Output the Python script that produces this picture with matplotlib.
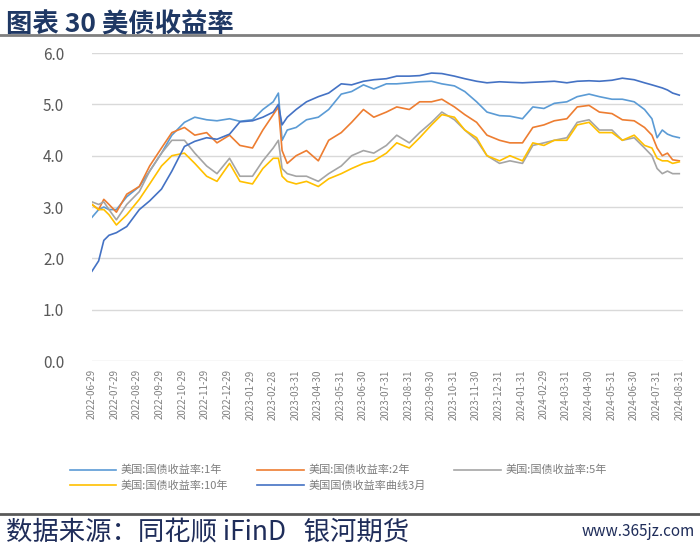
import matplotlib
matplotlib.use("Agg")
import matplotlib.pyplot as plt
from matplotlib.lines import Line2D
import pandas as pd

plt.rcParams['font.family'] = ['Noto Sans CJK SC', 'DejaVu Sans']

# sample dates (roughly semi-monthly, denser around the March 2023 spike and the Aug 2024 drop)
dates = ['2022-06-29', '2022-07-08', '2022-07-15', '2022-07-22', '2022-08-01', '2022-08-15',
         '2022-09-01', '2022-09-15', '2022-10-01', '2022-10-15', '2022-11-01', '2022-11-15',
         '2022-12-01', '2022-12-15', '2023-01-01', '2023-01-15', '2023-02-01', '2023-02-15',
         '2023-03-01', '2023-03-08', '2023-03-13', '2023-03-20', '2023-04-01', '2023-04-15',
         '2023-05-01', '2023-05-15', '2023-06-01', '2023-06-15', '2023-07-01', '2023-07-15',
         '2023-08-01', '2023-08-15', '2023-09-01', '2023-09-15', '2023-10-01', '2023-10-15',
         '2023-11-01', '2023-11-15', '2023-12-01', '2023-12-15', '2024-01-01', '2024-01-15',
         '2024-02-01', '2024-02-15', '2024-03-01', '2024-03-15', '2024-04-01', '2024-04-15',
         '2024-05-01', '2024-05-15', '2024-06-01', '2024-06-15', '2024-07-01', '2024-07-15',
         '2024-07-25', '2024-08-01', '2024-08-08', '2024-08-15', '2024-08-22', '2024-08-31']

y1 = [2.80, 2.95, 3.00, 2.95, 2.95, 3.20, 3.40, 3.70, 4.05, 4.40, 4.65, 4.75,
      4.70, 4.68, 4.72, 4.67, 4.70, 4.90, 5.05, 5.22, 4.30, 4.50, 4.55, 4.70,
      4.75, 4.90, 5.20, 5.25, 5.38, 5.30, 5.40, 5.40, 5.42, 5.44, 5.45, 5.40,
      5.36, 5.25, 5.05, 4.85, 4.78, 4.77, 4.72, 4.95, 4.92, 5.02, 5.05, 5.15,
      5.20, 5.15, 5.10, 5.10, 5.05, 4.90, 4.72, 4.35, 4.50, 4.42, 4.38, 4.35]

y2 = [3.05, 2.95, 3.15, 3.05, 2.90, 3.25, 3.40, 3.80, 4.15, 4.45, 4.55, 4.40,
      4.45, 4.25, 4.40, 4.20, 4.15, 4.50, 4.80, 4.95, 4.10, 3.85, 4.00, 4.10,
      3.90, 4.30, 4.45, 4.65, 4.90, 4.75, 4.85, 4.95, 4.90, 5.05, 5.05, 5.10,
      4.95, 4.80, 4.65, 4.40, 4.30, 4.25, 4.25, 4.55, 4.60, 4.68, 4.72, 4.95,
      4.98, 4.85, 4.82, 4.70, 4.68, 4.55, 4.40, 4.15, 4.00, 4.05, 3.92, 3.90]

y5 = [3.10, 3.05, 3.10, 2.95, 2.75, 3.05, 3.30, 3.70, 4.05, 4.30, 4.30, 4.05,
      3.80, 3.65, 3.95, 3.60, 3.60, 3.90, 4.15, 4.30, 3.75, 3.65, 3.60, 3.60,
      3.50, 3.65, 3.80, 4.00, 4.10, 4.05, 4.20, 4.40, 4.25, 4.45, 4.65, 4.85,
      4.70, 4.50, 4.30, 4.00, 3.85, 3.90, 3.85, 4.20, 4.25, 4.30, 4.35, 4.65,
      4.70, 4.50, 4.50, 4.30, 4.35, 4.15, 4.00, 3.75, 3.65, 3.70, 3.65, 3.65]

y10 = [3.05, 2.95, 2.95, 2.85, 2.65, 2.85, 3.15, 3.45, 3.80, 4.00, 4.05, 3.85,
       3.60, 3.50, 3.85, 3.50, 3.45, 3.75, 3.95, 3.95, 3.60, 3.50, 3.45, 3.50,
       3.40, 3.55, 3.65, 3.75, 3.85, 3.90, 4.05, 4.25, 4.15, 4.35, 4.60, 4.80,
       4.75, 4.50, 4.35, 4.00, 3.90, 4.00, 3.90, 4.25, 4.20, 4.30, 4.30, 4.60,
       4.65, 4.45, 4.45, 4.30, 4.40, 4.20, 4.15, 3.95, 3.90, 3.90, 3.85, 3.88]

y3m = [1.75, 1.95, 2.35, 2.45, 2.50, 2.62, 2.95, 3.12, 3.35, 3.70, 4.18, 4.28,
       4.35, 4.32, 4.42, 4.66, 4.68, 4.75, 4.85, 5.00, 4.60, 4.75, 4.90, 5.05,
       5.15, 5.22, 5.40, 5.38, 5.45, 5.48, 5.50, 5.55, 5.55, 5.56, 5.61, 5.60,
       5.55, 5.50, 5.45, 5.42, 5.44, 5.43, 5.42, 5.43, 5.44, 5.45, 5.42, 5.45,
       5.46, 5.45, 5.47, 5.51, 5.48, 5.42, 5.38, 5.35, 5.32, 5.28, 5.22, 5.18]

tick_dates = ['2022-06-29', '2022-07-29', '2022-08-29', '2022-09-29', '2022-10-29',
              '2022-11-29', '2022-12-29', '2023-01-29', '2023-02-28', '2023-03-31',
              '2023-04-30', '2023-05-31', '2023-06-30', '2023-07-31', '2023-08-31',
              '2023-09-30', '2023-10-31', '2023-11-30', '2023-12-31', '2024-01-31',
              '2024-02-29', '2024-03-31', '2024-04-30', '2024-05-31', '2024-06-30',
              '2024-07-31', '2024-08-31']

labels = ['美国:国债收益率:1年', '美国:国债收益率:2年', '美国:国债收益率:5年',
          '美国:国债收益率:10年', '美国国债收益率曲线3月']
colors = ['#5B9BD5', '#ED7D31', '#A5A5A5', '#FFC000', '#4472C4']

x = pd.to_datetime(dates)
ticks = pd.to_datetime(tick_dates)

fig = plt.figure(figsize=(7, 5.49), dpi=100)
ax = fig.add_axes([0.1314, 0.3424, 0.8443, 0.561])

lines = []
for ys, lab, c in zip([y1, y2, y5, y10, y3m], labels, colors):
    ln, = ax.plot(x, ys, color=c, linewidth=1.2, label=lab)
    lines.append(ln)

ax.set_ylim(0, 6)
ax.set_yticks([0, 1, 2, 3, 4, 5, 6])
ax.set_yticklabels(['%.1f' % v for v in [0, 1, 2, 3, 4, 5, 6]])
ax.set_xlim(ticks[0], pd.Timestamp('2024-09-05'))
ax.set_xticks(ticks)
ax.set_xticklabels(tick_dates, rotation=90)
ax.grid(axis='y', color='#D9D9D9', linewidth=1)
ax.set_axisbelow(True)
for s in ax.spines.values():
    s.set_visible(False)
ax.tick_params(axis='y', length=0, pad=20, labelsize=11, labelcolor='#595959')
ax.tick_params(axis='x', length=0, pad=6, labelsize=7, labelcolor='#808080')

# legend in row order: 1年, 2年, 5年 / 10年, 3月
order = [0, 3, 1, 4, 2]
fig.legend([lines[i] for i in order], [labels[i] for i in order],
           loc='upper left', bbox_to_anchor=(0.085, 1 - 455 / 549), ncol=3, frameon=False,
           fontsize=8, labelcolor='#7F7F7F', handlelength=4.2, columnspacing=2.6,
           handletextpad=0.4, labelspacing=0.45)

fig.text(0.008, 0.978, '图表 30 美债收益率', fontsize=19, fontweight='bold',
         color='#1F3864', va='top', ha='left')
fig.add_artist(Line2D([0, 1], [1 - 35 / 549, 1 - 35 / 549], color='#7F7F7F', linewidth=2))
fig.add_artist(Line2D([0, 1], [1 - 514 / 549, 1 - 514 / 549], color='#595959', linewidth=2))
fig.text(0.008, 1 - 532 / 549, '数据来源：同花顺 iFinD   银河期货', fontsize=19,
         color='#1F2D5A', va='center', ha='left')
fig.text(0.993, 1 - 532 / 549, 'www.365jz.com', fontsize=11,
         color='#1F2D5A', va='center', ha='right')

fig.savefig('out.png', dpi=100)
